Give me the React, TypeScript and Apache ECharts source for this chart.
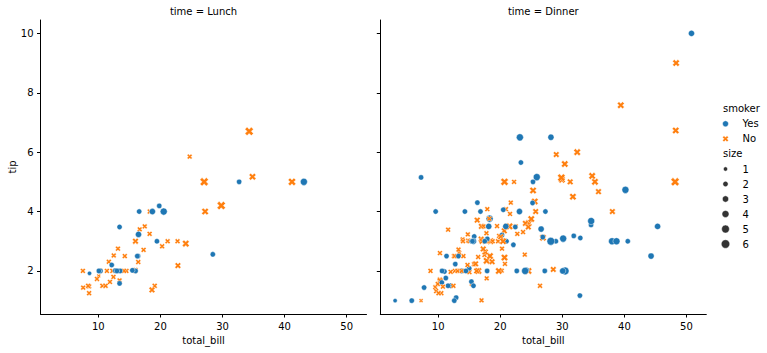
import React, { useEffect, useRef } from "react";
import * as echarts from "echarts";

// tips dataset columns (row order preserved)
const totalBill = [
  16.99, 10.34, 21.01, 23.68, 24.59, 25.29, 8.77, 26.88, 15.04, 14.78,
  10.27, 35.26, 15.42, 18.43, 14.83, 21.58, 10.33, 16.29, 16.97, 20.65,
  17.92, 20.29, 15.77, 39.42, 19.82, 17.81, 13.37, 12.69, 21.7, 19.65,
  9.55, 18.35, 15.06, 20.69, 17.78, 24.06, 16.31, 16.93, 18.69, 31.27,
  16.04, 17.46, 13.94, 9.68, 30.4, 18.29, 22.23, 32.4, 28.55, 18.04,
  12.54, 10.29, 34.81, 9.94, 25.56, 19.49, 38.01, 26.41, 11.24, 48.27,
  20.29, 13.81, 11.02, 18.29, 17.59, 20.08, 16.45, 3.07, 20.23, 15.01,
  12.02, 17.07, 26.86, 25.28, 14.73, 10.51, 17.92, 27.2, 22.76, 17.29,
  19.44, 16.66, 10.07, 32.68, 15.98, 34.83, 13.03, 18.28, 24.71, 21.16,
  28.97, 22.49, 5.75, 16.32, 22.75, 40.17, 27.28, 12.03, 21.01, 12.46,
  11.35, 15.38, 44.3, 22.42, 20.92, 15.36, 20.49, 25.21, 18.24, 14.31,
  14.0, 7.25, 38.07, 23.95, 25.71, 17.31, 29.93, 10.65, 12.43, 24.08,
  11.69, 13.42, 14.26, 15.95, 12.48, 29.8, 8.52, 14.52, 11.38, 22.82,
  19.08, 20.27, 11.17, 12.26, 18.26, 8.51, 10.33, 14.15, 16.0, 13.16,
  17.47, 34.3, 41.19, 27.05, 16.43, 8.35, 18.64, 11.87, 9.78, 7.51,
  14.07, 13.13, 17.26, 24.55, 19.77, 29.85, 48.17, 25.0, 13.39, 16.49,
  21.5, 12.66, 16.21, 13.81, 17.51, 24.52, 20.76, 31.71, 10.59, 10.63,
  50.81, 15.81, 7.25, 31.85, 16.82, 32.9, 17.89, 14.48, 9.6, 34.63,
  34.65, 23.33, 45.35, 23.17, 40.55, 20.69, 20.9, 30.46, 18.15, 23.1,
  15.69, 19.81, 28.44, 15.48, 16.58, 7.56, 10.34, 43.11, 13.0, 13.51,
  18.71, 12.74, 13.0, 16.4, 20.53, 16.47, 26.59, 38.73, 24.27, 12.76,
  30.06, 25.89, 48.33, 13.27, 28.17, 12.9, 28.15, 11.59, 7.74, 30.14,
  12.16, 13.42, 8.58, 15.98, 13.42, 16.27, 10.09, 20.45, 13.28, 22.12,
  24.01, 15.69, 11.61, 10.77, 15.53, 10.07, 12.6, 32.83, 35.83, 29.03,
  27.18, 22.67, 17.82, 18.78,
];

const tip = [
  1.01, 1.66, 3.5, 3.31, 3.61, 4.71, 2.0, 3.12, 1.96, 3.23,
  1.71, 5.0, 1.57, 3.0, 3.02, 3.92, 1.67, 3.71, 3.5, 3.35,
  4.08, 2.75, 2.23, 7.58, 3.18, 2.34, 2.0, 2.0, 4.3, 3.0,
  1.45, 2.5, 3.0, 2.45, 3.27, 3.6, 2.0, 3.07, 2.31, 5.0,
  2.24, 2.54, 3.06, 1.32, 5.6, 3.0, 5.0, 6.0, 2.05, 3.0,
  2.5, 2.6, 5.2, 1.56, 4.34, 3.51, 3.0, 1.5, 1.76, 6.73,
  3.21, 2.0, 1.98, 3.76, 2.64, 3.15, 2.47, 1.0, 2.01, 2.09,
  1.97, 3.0, 3.14, 5.0, 2.2, 1.25, 3.08, 4.0, 3.0, 2.71,
  3.0, 3.4, 1.83, 5.0, 2.03, 5.17, 2.0, 4.0, 5.85, 3.0,
  3.0, 3.5, 1.0, 4.3, 3.25, 4.73, 4.0, 1.5, 3.0, 1.5,
  2.5, 3.0, 2.5, 3.48, 4.08, 1.64, 4.06, 4.29, 3.76, 4.0,
  3.0, 1.0, 4.0, 2.55, 4.0, 3.5, 5.07, 1.5, 1.8, 2.92,
  2.31, 1.68, 2.5, 2.0, 2.52, 4.2, 1.48, 2.0, 2.0, 2.18,
  1.5, 2.83, 1.5, 2.0, 3.25, 1.25, 2.0, 2.0, 2.0, 2.75,
  3.5, 6.7, 5.0, 5.0, 2.3, 1.5, 1.36, 1.63, 1.73, 2.0,
  2.5, 2.0, 2.74, 2.0, 2.0, 5.14, 5.0, 3.75, 2.61, 2.0,
  3.5, 2.5, 2.0, 2.0, 3.0, 3.48, 2.24, 4.5, 1.61, 2.0,
  10.0, 3.16, 5.15, 3.18, 4.0, 3.11, 2.0, 2.0, 4.0, 3.55,
  3.68, 5.65, 3.5, 6.5, 3.0, 5.0, 3.5, 2.0, 3.5, 4.0,
  1.5, 4.19, 2.56, 2.02, 4.0, 1.44, 2.0, 5.0, 2.0, 2.0,
  4.0, 2.01, 2.0, 2.5, 4.0, 3.23, 3.41, 3.0, 2.03, 2.23,
  2.0, 5.16, 9.0, 2.5, 6.5, 1.1, 3.0, 1.5, 1.44, 3.09,
  2.2, 3.48, 1.92, 3.0, 1.58, 2.5, 2.0, 3.0, 2.72, 2.88,
  2.0, 3.0, 3.39, 1.47, 3.0, 1.25, 1.0, 1.17, 4.67, 5.92,
  2.0, 2.0, 1.75, 3.0,
];

// Y = smoker "Yes", N = smoker "No"
const smokerCodes = [
  "NNNNNNNNNN", "NNNNNNNNNN", "NNNNNNNNNN", "NNNNNNNNNN", "NNNNNNNNNN",
  "NNNNNNYNYN", "YYYYNNNYNY", "NNYYNNYNNN", "YNNYNNNNNN", "YNYYNYYYYN",
  "YYYYNYYYNY", "NNNNNNNNNN", "NNNNNNNNNN", "NNNNNNNNYN", "NNNNNNNNNN",
  "NNNNNNNNNN", "NNNNYNNNYY", "YYYYYYYYYY", "YYYYYNYYYY", "YYYYYNYYYY",
  "YYYYYYYYYY", "YYNYYYYYYY", "YYYNYYYNNY", "YYNNYNYYNN", "YYNN",
].join("");

// L = Lunch, D = Dinner
const timeCodes = [
  "DDDDDDDDDD", "DDDDDDDDDD", "DDDDDDDDDD", "DDDDDDDDDD", "DDDDDDDDDD",
  "DDDDDDDDDD", "DDDDDDDDDD", "DDDDDDDLLL", "LLLLLLLLLL", "DDDDDDDDDD",
  "DDDDDDDDDD", "DDDDDDDLLL", "LLLLLLLLLL", "LLLLLLLLLL", "LLLLLLLLLL",
  "DDDDDDDDDD", "DDDDDDDDDD", "DDDDDDDDDD", "DDDDDDDDDD", "DLLLLLLLLL",
  "LLLLLLDDDD", "DDDDDDDDDD", "LLLLLLLDDD", "DDDDDDDDDD", "DDDD",
].join("");

const partySize = [
  2, 3, 3, 2, 4, 4, 2, 4, 2, 2,
  2, 4, 2, 4, 2, 2, 3, 3, 3, 3,
  2, 2, 2, 4, 2, 4, 2, 2, 2, 2,
  2, 4, 2, 4, 2, 3, 3, 3, 3, 3,
  3, 2, 2, 2, 4, 2, 2, 4, 3, 2,
  2, 2, 4, 2, 4, 2, 4, 2, 2, 4,
  2, 2, 2, 4, 3, 3, 2, 1, 2, 2,
  2, 3, 2, 2, 2, 2, 2, 4, 2, 2,
  2, 2, 1, 2, 2, 4, 2, 2, 2, 2,
  2, 2, 2, 2, 2, 4, 2, 2, 2, 2,
  2, 2, 3, 2, 2, 2, 2, 2, 2, 2,
  2, 1, 3, 2, 3, 2, 4, 2, 2, 4,
  2, 2, 2, 2, 2, 6, 2, 2, 2, 3,
  2, 2, 2, 2, 2, 2, 2, 2, 2, 2,
  2, 6, 5, 6, 2, 2, 3, 2, 2, 2,
  2, 2, 3, 4, 4, 5, 6, 4, 2, 4,
  4, 2, 3, 2, 2, 3, 2, 4, 2, 2,
  3, 2, 2, 2, 2, 2, 2, 2, 2, 2,
  4, 2, 3, 4, 2, 5, 3, 5, 3, 3,
  2, 2, 2, 2, 2, 2, 2, 4, 2, 2,
  3, 2, 2, 2, 4, 3, 3, 4, 2, 2,
  3, 4, 4, 2, 3, 2, 5, 2, 2, 4,
  2, 2, 1, 3, 2, 2, 2, 4, 2, 2,
  4, 3, 2, 2, 2, 2, 2, 2, 3, 3,
  2, 2, 2, 2,
];

const smokerLevels = ["Yes", "No"];
const smokerKeys = ["Y", "N"];
const timeLevels = ["Lunch", "Dinner"];
const timeKeys = ["L", "D"];
const sizeLevels = [1, 2, 3, 4, 5, 6];
const xTicks = [10, 20, 30, 40, 50];
const yTicks = [2, 4, 6, 8, 10];
const palette = ["#1f77b4", "#ff7f0e"];

const FONT = "DejaVu Sans";
const X_PATH =
  "path://M1,0 L2,1 L3,0 L4,1 L3,2 L4,3 L3,4 L2,3 L1,4 L0,3 L1,2 L0,1 Z";
const X_POINTS = [
  [1, 0], [2, 1], [3, 0], [4, 1], [3, 2], [4, 3],
  [3, 4], [2, 3], [1, 4], [0, 3], [1, 2], [0, 1],
];

// seaborn scatter size range: areas 18..72 pt^2, marker width = sqrt(area)
const sMin = Math.min(...sizeLevels);
const sMax = Math.max(...sizeLevels);
const diam = (s: number) => Math.sqrt(18 + ((s - sMin) / (sMax - sMin)) * 54);

function withMargin(arr: number[]) {
  const lo = Math.min(...arr);
  const hi = Math.max(...arr);
  const m = (hi - lo) * 0.05;
  return [lo - m, hi + m];
}

export default function App() {
  const ref = useRef<HTMLDivElement>(null);

  useEffect(() => {
    document.body.style.margin = "0";
    if (!ref.current) return;
    const chart = echarts.init(ref.current, undefined, { renderer: "svg" });

    const [xMin, xMax] = withMargin(totalBill);
    const [yMin, yMax] = withMargin(tip);

    const grids = [
      { left: 40.5, top: 20, width: 326, height: 294 },
      { left: 380.3, top: 20, width: 326, height: 294 },
    ];

    const textStyle = { color: "#000", fontSize: 10, fontFamily: FONT };
    const lineStyle = { color: "#000", width: 1 };

    const xAxes = grids.map((_, gi) => ({
      type: "value",
      gridIndex: gi,
      min: xMin,
      max: xMax,
      axisLine: { show: true, onZero: false, lineStyle },
      axisTick: { show: true, inside: false, length: 3.5, customValues: xTicks, lineStyle },
      axisLabel: { show: true, margin: 7, customValues: xTicks, ...textStyle },
      splitLine: { show: false },
      name: "total_bill",
      nameLocation: "middle",
      nameGap: 20,
      nameTextStyle: textStyle,
    }));

    const yAxes = grids.map((_, gi) => ({
      type: "value",
      gridIndex: gi,
      min: yMin,
      max: yMax,
      axisLine: { show: true, onZero: false, lineStyle },
      axisTick: { show: true, inside: false, length: 3.5, customValues: yTicks, lineStyle },
      axisLabel: { show: gi === 0, margin: 7, customValues: yTicks, ...textStyle },
      splitLine: { show: false },
    }));

    const series = timeKeys.map((tk, gi) => {
      const data: any[] = [];
      for (let i = 0; i < totalBill.length; i++) {
        if (timeCodes[i] !== tk) continue;
        const si = smokerKeys.indexOf(smokerCodes[i]);
        data.push({
          value: [totalBill[i], tip[i]],
          symbol: si === 0 ? "circle" : X_PATH,
          symbolSize: diam(partySize[i]),
          itemStyle: { color: palette[si], opacity: 1, borderColor: "#fff", borderWidth: 0.45 },
        });
      }
      return {
        type: "scatter",
        xAxisIndex: gi,
        yAxisIndex: gi,
        data,
        symbolKeepAspect: true,
        itemStyle: { opacity: 1 },
        emphasis: { disabled: true },
      };
    });

    const txt = (text: string, x: number, y: number, align = "left", extra: any = {}) => ({
      type: "text",
      x,
      y,
      silent: true,
      ...extra,
      style: {
        text,
        font: `10px "${FONT}"`,
        fill: "#000",
        align,
        textAlign: align,
        verticalAlign: "middle",
        textVerticalAlign: "middle",
      },
    });

    const graphics: any[] = [];
    grids.forEach((g, gi) => {
      graphics.push(txt(`time = ${timeLevels[gi]}`, g.left + g.width / 2, 11, "center"));
    });
    graphics.push(txt("tip", 12, 20 + 294 / 2, "center", { rotation: Math.PI / 2 }));

    // legend
    const lx = 723;
    const mx = 725.5;
    const tx = 742.5;
    graphics.push(txt("smoker", lx, 108.5));
    const hueD = 6;
    smokerLevels.forEach((lab, i) => {
      const y = 123.8 + i * 15;
      if (i === 0) {
        graphics.push({
          type: "circle",
          silent: true,
          shape: { cx: mx, cy: y, r: hueD / 2 },
          style: { fill: palette[i], stroke: "#fff", lineWidth: 0.45 },
        });
      } else {
        graphics.push({
          type: "polygon",
          silent: true,
          shape: {
            points: X_POINTS.map(([px, py]) => [mx + (px / 4 - 0.5) * hueD, y + (py / 4 - 0.5) * hueD]),
          },
          style: { fill: palette[i], stroke: "#fff", lineWidth: 0.45 },
        });
      }
      graphics.push(txt(lab, tx, y));
    });
    graphics.push(txt("size", lx, 153.5));
    sizeLevels.forEach((s, i) => {
      const y = 169 + i * 15;
      graphics.push({
        type: "circle",
        silent: true,
        shape: { cx: mx, cy: y, r: diam(s) / 2 },
        style: { fill: "#333333", stroke: "#fff", lineWidth: 0.45 },
      });
      graphics.push(txt(String(s), tx, y));
    });

    chart.setOption({
      animation: false,
      backgroundColor: "#fff",
      grid: grids.map((g) => ({ ...g, containLabel: false, outerBoundsMode: "none" })),
      xAxis: xAxes,
      yAxis: yAxes,
      series,
      graphic: graphics,
    } as any);

    return () => chart.dispose();
  }, []);

  return (
    <div
      ref={ref}
      style={{ width: 767, height: 353, position: "absolute", left: 0, top: 0 }}
    />
  );
}
